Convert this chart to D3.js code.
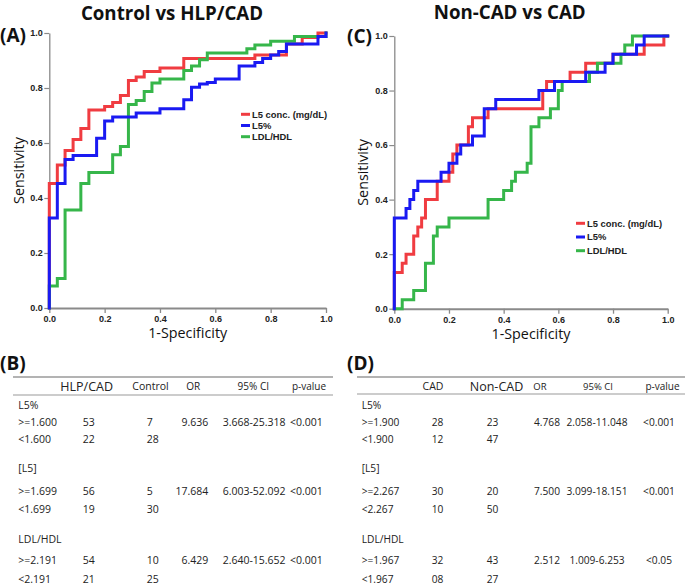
<!DOCTYPE html>
<html><head><meta charset="utf-8">
<script src="https://cdn.jsdelivr.net/npm/d3@7"></script>
<style>body{margin:0;background:#fff} svg{display:block}</style>
</head><body><svg id="c" width="685" height="585"></svg>
<script>
// ---------- DATA ----------
const tickValues = [0, 0.2, 0.4, 0.6, 0.8, 1.0];
const seriesNames = ["L5 conc. (mg/dL)", "L5%", "LDL/HDL"];
const seriesColors = ["#f03c41", "#1a1af2", "#36b64a"];

// ROC operating points [1-specificity, sensitivity]; Control vs HLP/CAD
const rocA_L5conc = [[0,0],[0,0.453],[0.029,0.52],[0.057,0.573],[0.086,0.613],[0.114,0.653],[0.143,0.72],[0.2,0.733],[0.229,0.747],[0.257,0.773],[0.286,0.827],[0.314,0.84],[0.343,0.86],[0.4,0.873],[0.486,0.907],[0.743,0.92],[0.857,0.96],[0.914,0.984],[0.971,1],[1,1]];
const rocA_L5pct = [[0,0],[0,0.327],[0.029,0.453],[0.057,0.54],[0.086,0.555],[0.171,0.617],[0.2,0.68],[0.229,0.695],[0.314,0.709],[0.4,0.725],[0.486,0.757],[0.514,0.803],[0.543,0.815],[0.571,0.82],[0.6,0.833],[0.686,0.88],[0.743,0.893],[0.771,0.907],[0.8,0.92],[0.829,0.933],[0.857,0.96],[0.971,0.987],[1,1]];
const rocA_LDLHDL = [[0,0],[0,0.08],[0.029,0.107],[0.057,0.356],[0.114,0.453],[0.143,0.493],[0.229,0.557],[0.257,0.587],[0.286,0.74],[0.314,0.755],[0.343,0.787],[0.371,0.818],[0.4,0.833],[0.486,0.864],[0.514,0.88],[0.543,0.903],[0.571,0.927],[0.714,0.943],[0.743,0.956],[0.8,0.97],[0.886,0.987],[1,1]];

// Non-CAD vs CAD
const rocC_L5conc = [[0,0],[0,0.133],[0.029,0.167],[0.043,0.2],[0.071,0.267],[0.086,0.3],[0.1,0.333],[0.114,0.4],[0.157,0.467],[0.2,0.5],[0.214,0.567],[0.229,0.6],[0.271,0.667],[0.286,0.7],[0.343,0.733],[0.543,0.8],[0.557,0.833],[0.643,0.867],[0.7,0.9],[0.8,0.933],[0.914,0.967],[0.986,1],[1,1]];
const rocC_L5pct = [[0,0],[0,0.333],[0.043,0.367],[0.057,0.4],[0.071,0.433],[0.086,0.467],[0.171,0.5],[0.2,0.533],[0.229,0.567],[0.243,0.6],[0.286,0.633],[0.329,0.733],[0.371,0.767],[0.529,0.8],[0.586,0.833],[0.7,0.867],[0.771,0.9],[0.8,0.933],[0.886,0.967],[0.914,1],[1,1]];
const rocC_LDLHDL = [[0,0],[0.029,0.033],[0.071,0.067],[0.114,0.167],[0.143,0.267],[0.157,0.3],[0.2,0.333],[0.343,0.4],[0.4,0.433],[0.429,0.467],[0.443,0.5],[0.486,0.533],[0.5,0.667],[0.529,0.7],[0.571,0.733],[0.6,0.8],[0.614,0.833],[0.714,0.867],[0.743,0.9],[0.829,0.933],[0.843,0.967],[0.871,1],[1,1]];

// Tables
const tableB_header = ["HLP/CAD", "Control", "OR", "95% CI", "p-value"];
const tableB_rows = [
  ["L5%"],
  [">=1.600", "53", "7", "9.636", "3.668-25.318", "<0.001"],
  ["<1.600", "22", "28"],
  ["[L5]"],
  [">=1.699", "56", "5", "17.684", "6.003-52.092", "<0.001"],
  ["<1.699", "19", "30"],
  ["LDL/HDL"],
  [">=2.191", "54", "10", "6.429", "2.640-15.652", "<0.001"],
  ["<2.191", "21", "25"]
];
const tableD_header = ["CAD", "Non-CAD", "OR", "95% CI", "p-value"];
const tableD_rows = [
  ["L5%"],
  [">=1.900", "28", "23", "4.768", "2.058-11.048", "<0.001"],
  ["<1.900", "12", "47"],
  ["[L5]"],
  [">=2.267", "30", "20", "7.500", "3.099-18.151", "<0.001"],
  ["<2.267", "10", "50"],
  ["LDL/HDL"],
  [">=1.967", "32", "43", "2.512", "1.009-6.253", "<0.05"],
  ["<1.967", "08", "27"]
];

// ---------- DRAW ----------
const svg = d3.select("#c");
const axisGray = "#8a8a8a";

function rocPanel(cfg) {
  const x = d3.scaleLinear().domain([0, 1]).range([cfg.x0, cfg.x1]);
  const y = d3.scaleLinear().domain([0, 1]).range([cfg.y0, cfg.y1]);
  const g = svg.append("g");

  const xa = g.append("g").attr("transform", `translate(0,${cfg.y0})`)
    .call(d3.axisBottom(x).tickValues(tickValues).tickFormat(d3.format(".1f")).tickSize(5).tickSizeOuter(0).tickPadding(3));
  xa.select(".domain").attr("stroke", axisGray).attr("stroke-width", 2);
  xa.selectAll(".tick line").attr("stroke", axisGray).attr("stroke-width", 1.3);
  const ya = g.append("g").attr("transform", `translate(${cfg.x0},0)`)
    .call(d3.axisLeft(y).tickValues(tickValues).tickFormat(d3.format(".1f")).tickSize(5).tickSizeOuter(0).tickPadding(1.5));
  ya.select(".domain").attr("stroke", axisGray).attr("stroke-width", 1.3);
  ya.selectAll(".tick line").attr("stroke", axisGray).attr("stroke-width", 1.2);
  g.selectAll(".tick text").attr("font-family", "Liberation Sans, Arial, sans-serif")
    .attr("font-weight", "bold").attr("font-size", 9).attr("fill", "#222");

  const line = d3.line().x(d => x(d[0])).y(d => y(d[1])).curve(d3.curveStepAfter);
  const order = [0, 2, 1];
  order.forEach(i => {
    g.append("path").datum(cfg.series[i]).attr("d", line)
      .attr("fill", "none").attr("stroke", seriesColors[i]).attr("stroke-width", 3)
      .attr("stroke-linejoin", "miter").attr("stroke-linecap", "square");
  });

  // axis titles
  g.append("text").attr("x", (cfg.x0 + cfg.x1) / 2).attr("y", cfg.y0 + 30)
    .attr("text-anchor", "middle").attr("font-family", "Open Sans, sans-serif").attr("font-size", 14.3)
    .attr("fill", "#111").text("1-Specificity");
  g.append("text").attr("transform", `translate(${cfg.ylabX},${(cfg.y0 + cfg.y1) / 2}) rotate(-90)`)
    .attr("text-anchor", "middle").attr("font-family", "Open Sans, sans-serif").attr("font-size", 14.3)
    .attr("fill", "#111").text("Sensitivity");

  // title and panel letter
  g.append("text").attr("x", cfg.titleX).attr("y", cfg.titleY).attr("text-anchor", "middle")
    .attr("font-family", "Open Sans, sans-serif").attr("font-weight", "bold").attr("font-size", 18.7)
    .attr("fill", "#111").text(cfg.title);
  g.append("text").attr("x", cfg.letterX).attr("y", cfg.letterY)
    .attr("font-family", "Open Sans, sans-serif").attr("font-weight", "bold").attr("font-size", 19)
    .attr("fill", "#111").text(cfg.letter);

  // legend
  seriesNames.forEach((n, i) => {
    const ly = cfg.legY + i * cfg.legStep;
    g.append("line").attr("x1", cfg.legX).attr("x2", cfg.legX + 9).attr("y1", ly).attr("y2", ly)
      .attr("stroke", seriesColors[i]).attr("stroke-width", 3);
    g.append("text").attr("x", cfg.legX + 11).attr("y", ly).attr("dy", "0.35em")
      .attr("font-family", "Liberation Sans, Arial, sans-serif").attr("font-weight", "bold")
      .attr("font-size", 9.4).attr("fill", "#222").text(n);
  });
}

rocPanel({x0: 49.3, x1: 326, y0: 308, y1: 33, series: [rocA_L5conc, rocA_L5pct, rocA_LDLHDL],
  ylabX: 24, title: "Control vs HLP/CAD", titleX: 172, titleY: 20, letter: "(A)", letterX: 0, letterY: 42,
  legX: 241, legY: 114.3, legStep: 11.2});
rocPanel({x0: 394.3, x1: 667.7, y0: 308.7, y1: 36, series: [rocC_L5conc, rocC_L5pct, rocC_LDLHDL],
  ylabX: 367.5, title: "Non-CAD vs CAD", titleX: 509.7, titleY: 18.5, letter: "(C)", letterX: 347, letterY: 43,
  legX: 576, legY: 223.3, legStep: 13.7});

function table(cfg) {
  const g = svg.append("g");
  g.append("text").attr("x", cfg.letterX).attr("y", 370)
    .attr("font-family", "Open Sans, sans-serif").attr("font-weight", "bold").attr("font-size", 19)
    .attr("fill", "#111").text(cfg.letter);
  g.append("line").attr("x1", cfg.lx0).attr("x2", cfg.lx1).attr("y1", 377).attr("y2", 377)
    .attr("stroke", "#9a9a9a").attr("stroke-width", 1.3);
  g.append("line").attr("x1", cfg.lx0).attr("x2", cfg.lx1).attr("y1", cfg.hruleY).attr("y2", cfg.hruleY)
    .attr("stroke", "#9a9a9a").attr("stroke-width", 1.1);
  cfg.header.forEach((h, i) => {
    g.append("text").attr("x", cfg.headX[i]).attr("y", 386.7).attr("dy", "0.35em")
      .attr("text-anchor", "middle").attr("font-family", "Open Sans, sans-serif")
      .attr("font-size", cfg.headSize[i]).attr("fill", "#222").text(h);
  });
  const rowY = [405.7, 422, 439, 468.3, 491, 509, 539, 560, 579];
  cfg.rows.forEach((r, ri) => {
    r.forEach((c, ci) => {
      g.append("text").attr("x", cfg.colX[ci]).attr("y", rowY[ri]).attr("dy", "0.35em")
        .attr("text-anchor", cfg.colAnchor[ci]).attr("font-family", "Open Sans, sans-serif")
        .attr("font-size", cfg.size).attr("fill", "#222").text(c);
    });
  });
}

table({letter: "(B)", letterX: 0, lx0: 13, lx1: 333, hruleY: 395, header: tableB_header,
  headX: [86.7, 150.5, 193.3, 253.3, 309], headSize: [12.5, 10.5, 10, 10, 10],
  rows: tableB_rows, size: 10.5,
  colX: [18.3, 82.7, 146.7, 208.3, 222.7, 290], colAnchor: ["start", "start", "start", "end", "start", "start"]});
table({letter: "(D)", letterX: 347, lx0: 357, lx1: 685, hruleY: 394, header: tableD_header,
  headX: [433, 496.5, 540, 598, 662.5], headSize: [10.5, 12.5, 9.5, 9.5, 10],
  rows: tableD_rows, size: 10.2,
  colX: [361.7, 431.7, 486.7, 560, 597, 659], colAnchor: ["start", "start", "start", "end", "middle", "middle"]});
</script></body></html>
